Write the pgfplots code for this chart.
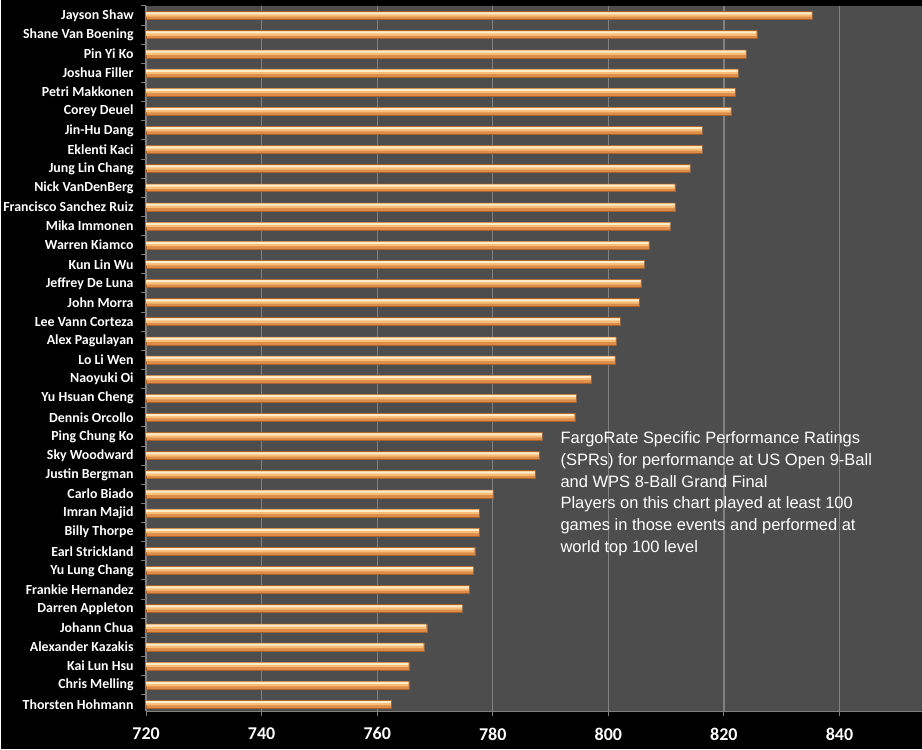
\documentclass[border=0pt]{standalone}
\usepackage{pgfplots}
\usepackage{pgfplotstable}
\pgfplotsset{compat=1.18}
\usepackage{fontspec}
\setmainfont{Carlito}
\newfontfamily\arialfont{Liberation Sans}

\definecolor{plotbg}{RGB}{77,77,77}
\definecolor{gridc}{RGB}{128,128,128}
\definecolor{bartop}{RGB}{255,236,200}
\definecolor{barmid}{RGB}{248,190,120}
\definecolor{barbot}{RGB}{222,140,72}
\definecolor{baredge}{RGB}{165,98,45}

% rating per player, top to bottom
\pgfplotstableread[col sep=comma]{
idx,spr,name
0,835.3,Jayson Shaw
1,825.7,Shane Van Boening
2,823.9,Pin Yi Ko
3,822.5,Joshua Filler
4,822.0,Petri Makkonen
5,821.3,Corey Deuel
6,816.3,Jin-Hu Dang
7,816.3,Eklenti Kaci
8,814.2,Jung Lin Chang
9,811.6,Nick VanDenBerg
10,811.6,Francisco Sanchez Ruiz
11,810.8,Mika Immonen
12,807.1,Warren Kiamco
13,806.3,Kun Lin Wu
14,805.7,Jeffrey De Luna
15,805.4,John Morra
16,802.1,Lee Vann Corteza
17,801.4,Alex Pagulayan
18,801.2,Lo Li Wen
19,797.1,Naoyuki Oi
20,794.5,Yu Hsuan Cheng
21,794.2,Dennis Orcollo
22,788.6,Ping Chung Ko
23,788.1,Sky Woodward
24,787.4,Justin Bergman
25,780.1,Carlo Biado
26,777.7,Imran Majid
27,777.7,Billy Thorpe
28,776.9,Earl Strickland
29,776.7,Yu Lung Chang
30,776.0,Frankie Hernandez
31,774.8,Darren Appleton
32,768.6,Johann Chua
33,768.1,Alexander Kazakis
34,765.5,Kai Lun Hsu
35,765.5,Chris Melling
36,762.5,Thorsten Hohmann
}\sprdata

\begin{document}
\begin{tikzpicture}
\fill[black] (-145.7pt,-38pt) rectangle (776.3pt,712pt);
\begin{axis}[
    scale only axis,
    width=776.3pt, height=706pt,
    at={(0,0)}, anchor=south west,
    xbar,
    xmin=720, xmax=854.2,
    ymin=-0.5, ymax=36.36,
    y dir=reverse,
    axis background/.style={fill=plotbg},
    axis x line*=bottom, axis y line*=left,
    axis line style={draw=gridc, line width=1pt},
    xtick={720,740,...,840},
    xmajorgrids=true,
    grid style={draw=gridc, line width=1.3pt},
    xticklabel style={font=\fontsize{18}{20}\selectfont\bfseries, text=white, yshift=-8pt},
    /pgf/number format/assume math mode=true,
    ytick={0,...,36},
    yticklabels from table={\sprdata}{name},
    yticklabel style={font=\fontsize{13.9}{15}\selectfont\bfseries, text=white, xshift=-4pt},
    minor ytick={-0.5,0.5,...,35.5},
    major tick length=5pt,
    minor tick length=5pt,
    tick align=outside,
    tick style={draw=gridc, line width=1pt},
    major y tick style={draw=none},
]
% bar body, then two lighter bands for the glossy top
\addplot[draw=baredge, line width=0.5pt, fill=barbot, bar width=8pt, bar shift=0pt]
    table[x=spr, y=idx] {\sprdata};
\addplot[draw=none, fill=barmid, bar width=4.6pt, bar shift=1.2pt]
    table[x expr=\thisrow{spr}-0.12, y=idx] {\sprdata};
\addplot[draw=none, fill=bartop, bar width=2pt, bar shift=2.2pt]
    table[x expr=\thisrow{spr}-0.12, y=idx] {\sprdata};
\node[anchor=north west, inner sep=0pt, align=left, text=white,
      font=\arialfont\fontsize{16.5}{21.7}\selectfont]
    at (axis cs:791.7,21.75)
    {FargoRate Specific Performance Ratings\\
     (SPRs) for performance at US Open 9-Ball\\
     and WPS 8-Ball Grand Final\\
     Players on this chart played at least 100\\
     games in those events and performed at\\
     world top 100 level};
\end{axis}
\end{tikzpicture}
\end{document}
